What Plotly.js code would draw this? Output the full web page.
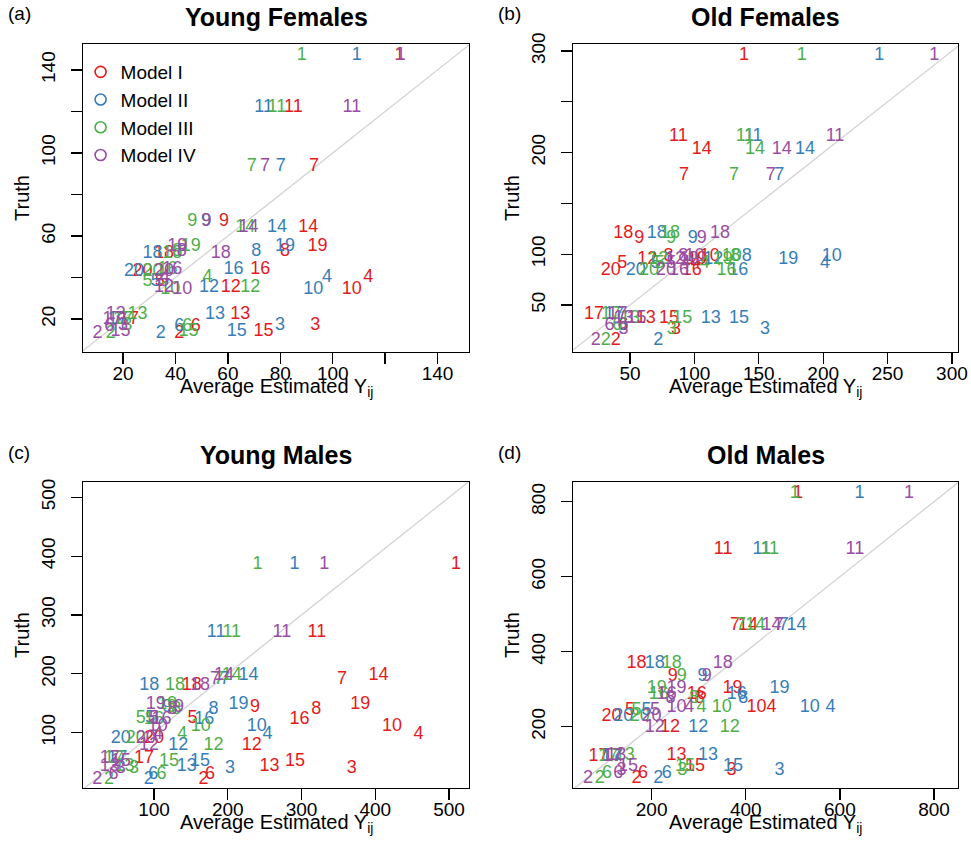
<!DOCTYPE html>
<html><head><meta charset="utf-8">
<script src="https://cdn.plot.ly/plotly-3.0.1.min.js"></script>
<style>html,body{margin:0;padding:0;background:#fff}#chart{width:971px;height:861px}</style>
</head><body><div id="chart"></div>
<script>
// ---------- data ----------
const labels = ['1','2','3','4','5','6','7','8','9','10','11','12','13','14','15','16','17','18','19','20'];
const models = ['Model I','Model II','Model III','Model IV'];
const modelColors = ['#E41A1C','#377EB8','#4DAF4A','#984EA3'];
const panelTitles = ['Young Females','Old Females','Young Males','Old Males'];
const panelTags = ['(a)','(b)','(c)','(d)'];

// (a) Young Females
const truthYF = [147,13,17,40,38,16.3,93.4,52.5,67,34.4,122,35,22.3,64,14,44,20,51.7,55,42.8];
const yfModelI   = [125.5,41.4,93.3,113.6,34,47.7,92.9,81.8,58.5,107.3,85,61.1,64.7,90.7,73.6,72.3,22.3,35.6,94.2,27.4];
const yfModelII  = [109.2,34.4,79.9,97.8,32.5,41.4,80.2,70.8,51.6,92.6,73.6,52.8,55.1,78.7,63.4,62.1,18,31.2,81.8,24.2];
const yfModelIII = [88.2,15.3,21.6,52.2,29.3,44.5,69.1,40.7,46.4,38,78.7,68.5,25.5,66.6,45,37,20,38.8,45.8,31.2];
const yfModelIV  = [126,10.2,20,36,35.6,14.7,74.2,42.4,51.8,42.6,107.3,35.6,17.2,67.9,19,38.8,16,57.3,40.7,35.6];

// (b) Old Females
const truthOF = [296,15,25.4,91,91,30,177.3,97.5,115.6,97.5,216,94.3,36.9,202.6,36.9,84.4,40.2,119.9,95,84.4];
const ofModelI   = [138.5,38.9,85.7,101,44,45,91.9,79.8,57.2,112,87.5,63.4,62.2,105.7,80.3,98,22,44.8,102,35];
const ofModelII  = [243.6,72,154.8,201.4,70,44,165.9,140.6,98.7,206.6,145.7,114.7,112.6,185.9,134.6,134.1,37.7,70.7,172.9,54.4];
const ofModelIII = [183.3,31.1,82.4,108,73,40,130.7,132,82,129,139.3,72,50,147,90.6,125,35,81,122,64.8];
const ofModelIV  = [286.3,23.4,45,93,82,34,159.2,91.4,105.7,100,209.2,85,45,167.8,55,88,40.2,119.9,96,78];

// (c) Young Males
const truthYM = [385,21,39.5,97,124,29,190,139,142,111,270,78.5,42,198,51,122,56,181,148,90];
const ymModelI   = [509.4,167,368,458.7,152,176,354.7,319.8,237,422.5,320.8,232.6,256.5,404.4,291.3,297.2,86.4,151.2,379.5,100];
const ymModelII  = [290.4,93,203,253.7,95,99,196.3,180.6,118,239.3,184.1,133,144.4,228,162.4,168,50,93.6,214.4,54.8];
const ymModelIII = [240.2,39,73,138.4,82,110,188,130,124.8,163.4,205.4,180.5,60,205.4,120.4,100,45.7,128.5,118,75.2];
const ymModelIV  = [330.7,23,55,105,100,45,182.8,125,134,105,273.3,93.2,40,195,55,110,40,162.4,102.3,88.7];

// (d) Old Males
const truthOM = [822,62,84,252,243,76,471,275,335,252,673,198,122,471,93,285,120,369,302,226];
const omModelI   = [511,168,370,455,154,182,377,302,245,423,352,239,253,405,292,296,87,168,372,115];
const omModelII  = [642,214,472,580,189,232,480,395,308,536,434,299,320,508,373,381,115,207,472,140];
const omModelIII = [504,90,265,306,168,105,390,290,264,349,451,366,143,420,271,215,108,243,211,175];
const omModelIV  = [747,65,136,280,207,129,470,240,317,253,632,207,125,455,150,232,118,351,253,200];

// axis ticks
const ticksA = [20,40,60,80,100,120,140];
const ticksAxText = ['20','40','60','80','100','','140'];
const ticksAyText = ['20','','60','','100','','140'];
const ticksB = [50,100,150,200,250,300];
const ticksBxText = ['50','100','150','200','250','300'];
const ticksByText = ['50','100','','200','','300'];
const ticksC = [100,200,300,400,500];
const ticksD = [200,400,600,800];

// ---------- build ----------
const FONT = 'Liberation Sans, Arial, Helvetica, sans-serif';
const W = 971, H = 861;
const panels = [
  {truth: truthYF, est: [yfModelI, yfModelII, yfModelIII, yfModelIV],
   xr: [4.7,152], yr: [4.1,152.5], box: [83,469,44,352],
   xt: ticksA, xtt: ticksAxText, yt: ticksA, ytt: ticksAyText},
  {truth: truthOF, est: [ofModelI, ofModelII, ofModelIII, ofModelIV],
   xr: [5.7,304.7], yr: [3.7,306.9], box: [573,958,44,352],
   xt: ticksB, xtt: ticksBxText, yt: ticksB, ytt: ticksByText},
  {truth: truthYM, est: [ymModelI, ymModelII, ymModelIII, ymModelIV],
   xr: [3.7,527], yr: [6,526], box: [83,469,482,788],
   xt: ticksC, xtt: ticksC.map(String), yt: ticksC, ytt: ticksC.map(String)},
  {truth: truthOM, est: [omModelI, omModelII, omModelIII, omModelIV],
   xr: [33,851], yr: [36.5,852.5], box: [573,958,482,788],
   xt: ticksD, xtt: ticksD.map(String), yt: ticksD, ytt: ticksD.map(String)}
];

const traces = [];
const layout = {
  width: W, height: H, margin: {l:0, r:0, t:0, b:0},
  paper_bgcolor: '#fff', plot_bgcolor: '#fff',
  font: {family: FONT, color: '#000'},
  showlegend: true,
  legend: {x: 0.083, y: 1 - 53/H, xanchor: 'left', yanchor: 'top',
           bgcolor: 'rgba(0,0,0,0)', borderwidth: 0,
           font: {size: 19, family: FONT, color: '#000'}, tracegroupgap: 0},
  annotations: []
};

panels.forEach((p, i) => {
  const n = i === 0 ? '' : String(i + 1);
  const xa = 'x' + n, ya = 'y' + n;
  const [l, r, t, b] = p.box;
  const axBase = {
    showline: true, mirror: true, linecolor: '#000', linewidth: 1.3,
    ticks: 'outside', ticklen: 11, tickwidth: 1.3, tickcolor: '#000',
    showgrid: false, zeroline: false, tickmode: 'array',
    tickfont: {size: 19, family: FONT, color: '#000'}
  };
  layout['xaxis' + n] = Object.assign({}, axBase, {
    domain: [l / W, r / W], range: p.xr, anchor: ya,
    tickvals: p.xt, ticktext: p.xtt, ticklabelstandoff: -7
  });
  layout['yaxis' + n] = Object.assign({}, axBase, {
    domain: [1 - b / H, 1 - t / H], range: p.yr, anchor: xa,
    tickvals: p.yt, ticktext: p.ytt, tickangle: -90, ticklabelstandoff: 8
  });
  // identity line
  const lo = Math.min(p.xr[0], p.yr[0]), hi = Math.max(p.xr[1], p.yr[1]);
  traces.push({type: 'scatter', mode: 'lines', x: [lo, hi], y: [lo, hi],
    xaxis: xa, yaxis: ya, line: {color: '#D3D3D3', width: 1.3},
    hoverinfo: 'skip', showlegend: false});
  p.est.forEach((est, m) => {
    traces.push({type: 'scatter', mode: 'text', x: est, y: p.truth, text: labels,
      textposition: 'middle center', cliponaxis: false,
      textfont: {size: 18, family: FONT, color: modelColors[m]},
      xaxis: xa, yaxis: ya, showlegend: false, name: models[m]});
  });
  const cx = ((l + r) / 2) / W;
  layout.annotations.push(
    {text: '<b>' + panelTitles[i] + '</b>', xref: 'paper', yref: 'paper',
     x: cx, y: 1 - (t - 27) / H, xanchor: 'center', yanchor: 'middle', showarrow: false,
     font: {size: 25, family: FONT, color: '#000'}},
    {text: panelTags[i], xref: 'paper', yref: 'paper',
     x: (l - 77) / W, y: 1 - (t - 30) / H, xanchor: 'left', yanchor: 'middle', showarrow: false,
     font: {size: 19, family: FONT, color: '#000'}},
    {text: 'Average Estimated Y<sub>ij</sub>', xref: 'paper', yref: 'paper',
     x: cx, y: 1 - (b + 35) / H, xanchor: 'center', yanchor: 'middle', showarrow: false,
     font: {size: 20, family: FONT, color: '#000'}},
    {text: 'Truth', xref: 'paper', yref: 'paper', textangle: -90,
     x: (l - 61) / W, y: 1 - ((t + b) / 2) / H, xanchor: 'center', yanchor: 'middle', showarrow: false,
     font: {size: 20, family: FONT, color: '#000'}}
  );
});

// legend entries (no data, legend symbols only)
models.forEach((m, k) => {
  traces.push({type: 'scatter', mode: 'markers', x: [null], y: [null], name: m,
    marker: {symbol: 'circle-open', size: 11, color: modelColors[k], line: {width: 1.6}},
    showlegend: true, hoverinfo: 'skip'});
});

Plotly.newPlot('chart', traces, layout, {staticPlot: true});
</script></body></html>
